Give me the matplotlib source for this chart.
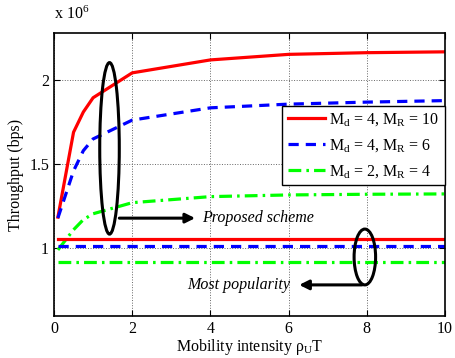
import matplotlib
matplotlib.use("Agg")
import matplotlib.pyplot as plt
from matplotlib.patches import Ellipse

plt.rcParams["font.family"] = ["Liberation Serif", "DejaVu Serif"]
plt.rcParams["mathtext.fontset"] = "custom"
plt.rcParams["mathtext.rm"] = "Liberation Serif"
plt.rcParams["mathtext.it"] = "Liberation Serif:italic"

# mobility intensity rho_U T
x = [0.1, 0.5, 0.75, 1, 2, 4, 6, 8, 10]

# throughput in units of 1e6 bps, proposed scheme
red_prop = [1.185, 1.69, 1.81, 1.895, 2.043, 2.12, 2.153, 2.163, 2.168]
blue_prop = [1.18, 1.46, 1.58, 1.65, 1.762, 1.835, 1.857, 1.869, 1.878]
green_prop = [0.99, 1.11, 1.17, 1.205, 1.271, 1.307, 1.317, 1.321, 1.323]

# most popularity (flat)
red_pop = 1.054
blue_pop = 1.015
green_pop = 0.92

labels = [r"M$_\mathrm{d}$ = 4, M$_\mathrm{R}$ = 10",
          r"M$_\mathrm{d}$ = 4, M$_\mathrm{R}$ = 6",
          r"M$_\mathrm{d}$ = 2, M$_\mathrm{R}$ = 4"]

fig = plt.figure(figsize=(4.56, 3.58), dpi=100)
ax = fig.add_axes([0.1184, 0.1173, 0.8575, 0.7905])

styles = [("#ff0000", "-"), ("#0000ff", (0, (3.2, 2.2))), ("#00ff00", (0, (4, 1.6, 0.8, 1.6)))]
series = [red_prop, blue_prop, green_prop]
flats = [red_pop, blue_pop, green_pop]

handles = []
for (c, ls), ys, lab in zip(styles, series, labels):
    h, = ax.plot(x, ys, color=c, linestyle=ls, lw=2.3, label=lab)
    handles.append(h)
for (c, ls), yf in zip(styles, flats):
    ax.plot([x[0], x[-1]], [yf, yf], color=c, linestyle=ls, lw=2.3)

ax.set_xlim(0, 10)
ax.set_ylim(0.597, 2.28)
ax.set_xticks([0, 2, 4, 6, 8, 10])
ax.set_yticks([1, 1.5, 2])
ax.set_yticklabels(["1", "1.5", "2"])
ax.grid(True, linestyle=":", color="#666666", lw=0.7)
ax.tick_params(direction="in", top=True, right=True, labelsize=11.5, length=4)
for s in ax.spines.values():
    s.set_linewidth(1.2)

ax.set_xlabel(r"Mobility intensity $\mathrm{\rho_U}$T", fontsize=11.5, labelpad=0)
ax.set_ylabel("Throughput (bps)", fontsize=11.5, labelpad=4)
ax.text(0.0, 1.035, r"x 10$^6$", transform=ax.transAxes, fontsize=11.5,
        ha="left", va="bottom")

# ellipses and arrows
ax.add_patch(Ellipse((1.42, 1.594), 0.5, 1.02, fill=False, ec="k", lw=2.2, zorder=5))
ax.annotate("", xy=(3.68, 1.179), xytext=(1.6, 1.179),
            arrowprops=dict(arrowstyle="-|>", lw=2.2, color="k", mutation_scale=14))
ax.text(3.8, 1.179, "Proposed scheme", style="italic", fontsize=11.5,
        va="center", ha="left")

ax.add_patch(Ellipse((7.95, 0.948), 0.55, 0.332, fill=False, ec="k", lw=2.2, zorder=5))
ax.annotate("", xy=(6.2, 0.782), xytext=(7.95, 0.782),
            arrowprops=dict(arrowstyle="-|>", lw=2.2, color="k", mutation_scale=14))
ax.text(6.05, 0.782, "Most popularity", style="italic", fontsize=11.5,
        va="center", ha="right")

leg = ax.legend(handles=handles, loc="upper right", bbox_to_anchor=(1.0, 0.742),
                fontsize=11.5, handlelength=2.3, handletextpad=0.3,
                borderpad=0.35, labelspacing=0.55, fancybox=False,
                framealpha=1, edgecolor="k", borderaxespad=0)
leg.get_frame().set_linewidth(1.0)

fig.savefig("out.png", dpi=100)
